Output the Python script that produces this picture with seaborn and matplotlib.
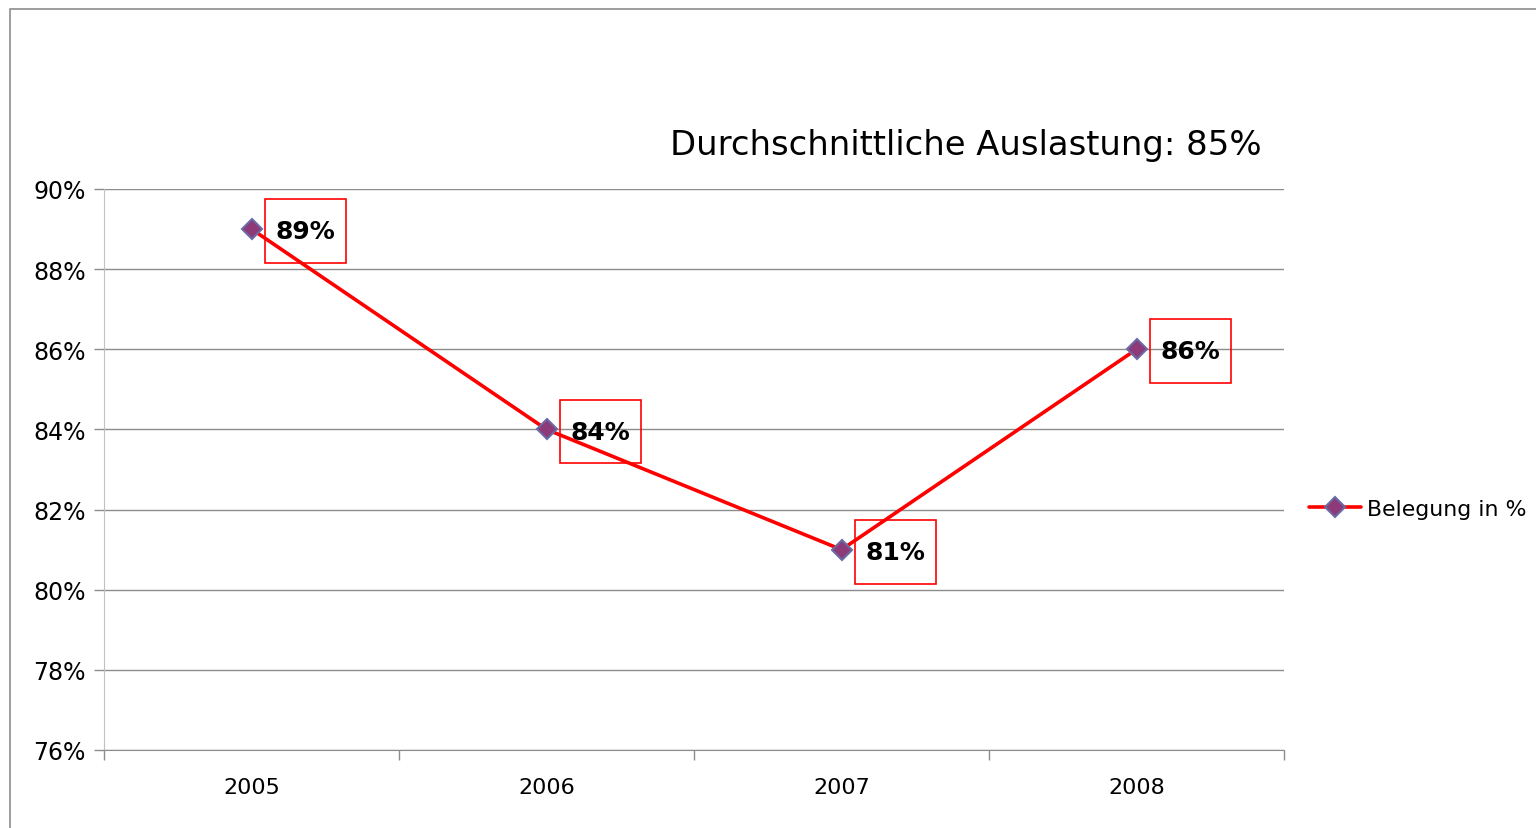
import matplotlib.pyplot as plt
import matplotlib.ticker as mticker
from matplotlib.patches import Rectangle
import pandas as pd
import seaborn as sns

# Daten
jahre = ['2005', '2006', '2007', '2008']
belegung = [89, 84, 81, 86]
titel = 'Durchschnittliche Auslastung: 85%'
serie = 'Belegung in %'

df = pd.DataFrame({'Jahr': jahre, 'Belegung': belegung})

sns.set_style('white')
plt.rcParams['font.family'] = ['DejaVu Sans']
plt.rcParams['text.color'] = 'black'
plt.rcParams['xtick.color'] = 'black'
plt.rcParams['ytick.color'] = 'black'

fig = plt.figure(figsize=(15.36, 8.29), dpi=100)
ax = fig.add_axes([104/1536, 1 - 751/829, (1284 - 104)/1536, (751 - 190)/829])

sns.lineplot(data=df, x='Jahr', y='Belegung', ax=ax, color='#ff0000', linewidth=2.6,
             marker='D', markersize=10, markerfacecolor='#8e3a78',
             markeredgecolor='#6a6aa6', markeredgewidth=1.5, label=serie)

# Datenbeschriftungen mit rotem Rahmen
for i, v in enumerate(belegung):
    ax.annotate(f'{v}%', (i, v), xytext=(17.5, -1.5), textcoords='offset points',
                ha='left', va='center', fontsize=18, fontweight='bold', color='black',
                bbox=dict(boxstyle='square,pad=0.42', fc='none', ec='#ff0000', lw=1.2,
                          mutation_aspect=1.9))

ax.set_ylim(76, 90)
ax.set_xlim(-0.5, 3.5)
ax.yaxis.set_major_locator(mticker.MultipleLocator(2))
ax.yaxis.set_major_formatter(mticker.FuncFormatter(lambda x, p: f'{x:.0f}%'))
ax.grid(axis='y', color='#8c8c8c', linewidth=1)
ax.set_axisbelow(True)

ax.set_xticks([-0.5, 0.5, 1.5, 2.5, 3.5], minor=True)
ax.tick_params(axis='x', which='major', bottom=False, pad=16, labelsize=16)
ax.tick_params(axis='x', which='minor', bottom=True, length=7, color='#8c8c8c', width=1)
ax.tick_params(axis='y', which='major', left=True, length=7, color='#8c8c8c', width=1,
               pad=6, labelsize=17)
ax.set_xlabel('')
ax.set_ylabel('')

for s in ['top', 'right']:
    ax.spines[s].set_visible(False)
ax.spines['left'].set_color('#c0c0c0')
ax.spines['bottom'].set_color('#8c8c8c')

fig.text(966/1536, 1 - 145/829, titel, ha='center', va='center', fontsize=24.4)

ax.legend(loc='center left', bbox_to_anchor=(1.0135, 0.43), frameon=False,
          fontsize=15.8, handlelength=2.4, handletextpad=0.25, borderaxespad=0)

# Rahmen des Diagrammbereichs
fig.patches.append(Rectangle((10/1536, -0.1), 2, 1 - 10/829 + 0.1,
                             transform=fig.transFigure, fill=False,
                             ec='#8c8c8c', lw=1.2))

fig.savefig('out.png', dpi=100)
